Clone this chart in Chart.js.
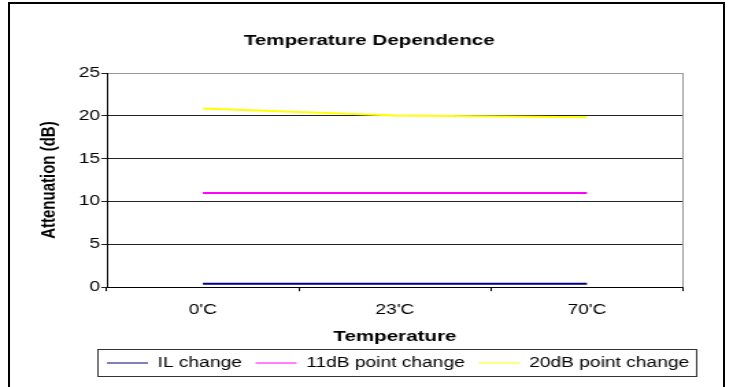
<!DOCTYPE html>
<html lang="en">

<head>
    <meta charset="UTF-8">
    <meta name="viewport" content="width=device-width, initial-scale=1.0">
    <title>Temperature Dependence</title>
    <style>
        body {
            margin: 0;
            background-color: #ffffff;
            overflow: hidden;
        }

        .frame {
            position: absolute;
            left: 8px;
            top: 2px;
            width: 713px;
            height: 420px;
            border: 2px solid #000000;
        }

        #chartContainer {
            position: absolute;
            left: 0;
            top: 0;
        }
    </style>
</head>

<body>
    <div class="frame"></div>
    <!-- the original is an Excel chart stretched sideways, so draw narrow and let css widen it -->
    <canvas id="chartContainer" width="535" height="387" style="width: 733px; height: 387px;"></canvas>

    <script src="https://cdn.jsdelivr.net/npm/chart.js@4/dist/chart.umd.min.js"></script>
    <script>
        const categories = ["0'C", "23'C", "70'C"];
        const ilChange = [0.4, 0.4, 0.4];
        const point11dB = [11, 11, 11];
        const point20dB = [20.85, 20.05, 19.85];
        const yMin = 0;
        const yMax = 25;
        const yStep = 5;

        Chart.defaults.font.family = "'Liberation Sans', Arial, sans-serif";
        Chart.defaults.font.size = 14;
        Chart.defaults.color = "#000000";

        // excel puts the title in the middle of the whole box and starts the legend under the plot
        const excelLook = {
            id: "excelLook",
            afterLayout(chart) {
                const t = chart.titleBlock;
                t.left = 0;
                t.right = chart.width + 4;

                const lg = chart.legend;
                const pad = lg.options.labels.padding;
                const start = (lg.left + pad + lg.right - lg.lineWidths[0]) / 2;
                const dx = chart.chartArea.left - start;
                lg.left += dx;
                lg.right += dx;
            },
            beforeDatasetsDraw(chart) {
                const { ctx, chartArea } = chart;
                ctx.save();
                ctx.strokeStyle = "#999999";
                ctx.lineWidth = 1;
                ctx.beginPath();
                ctx.moveTo(Math.round(chartArea.right) - 0.5, chartArea.top);
                ctx.lineTo(Math.round(chartArea.right) - 0.5, chartArea.bottom);
                ctx.stroke();
                ctx.restore();
            },
            afterDraw(chart) {
                const lg = chart.legend;
                const ctx = chart.ctx;
                const pad = lg.options.labels.padding;
                const x0 = (lg.left + pad + lg.right - lg.lineWidths[0]) / 2;
                const x1 = x0 + lg.lineWidths[0] - pad;
                const yc = lg.top + pad + 7;
                ctx.save();
                ctx.strokeStyle = "#333333";
                ctx.lineWidth = 1;
                ctx.strokeRect(Math.round(x0 - 7) + 0.5, Math.round(yc - 14) + 0.5, Math.round(x1 - x0 + 12), 27);
                ctx.restore();
            }
        };

        const ctx = document.getElementById("chartContainer");

        const mainChart = new Chart(ctx, {
            type: "line",
            data: {
                labels: categories,
                datasets: [
                    { label: "IL change", data: ilChange, borderColor: "#000080", backgroundColor: "#000080" },
                    { label: "11dB point change", data: point11dB, borderColor: "#ff00ff", backgroundColor: "#ff00ff" },
                    { label: "20dB point change", data: point20dB, borderColor: "#ffff00", backgroundColor: "#ffff00" }
                ]
            },
            options: {
                responsive: false,
                animation: false,
                events: [],
                elements: {
                    line: { borderWidth: 2, tension: 0 },
                    point: { radius: 0 }
                },
                layout: {
                    padding: { left: 0, right: 36.5, top: 0, bottom: 7 }
                },
                plugins: {
                    title: {
                        display: true,
                        text: "Temperature Dependence",
                        font: { size: 15, weight: "bold" },
                        padding: { top: 32, bottom: 23 }
                    },
                    legend: {
                        position: "bottom",
                        labels: {
                            usePointStyle: true,
                            pointStyle: "line",
                            pointStyleWidth: 30,
                            padding: 10,
                            font: { size: 14 }
                        }
                    },
                    tooltip: { enabled: false }
                },
                scales: {
                    x: {
                        offset: true,
                        grid: {
                            offset: true,
                            drawOnChartArea: false,
                            tickLength: 4,
                            color: "#000000"
                        },
                        border: { color: "#000000" },
                        ticks: { padding: 11 },
                        title: {
                            display: true,
                            text: "Temperature",
                            font: { size: 15, weight: "bold" },
                            padding: { top: -2, bottom: 0 }
                        }
                    },
                    y: {
                        min: yMin,
                        max: yMax,
                        afterFit(scale) {
                            scale.width = 78;
                        },
                        grid: {
                            color: (c) => (c.tick && c.tick.value === yMax ? "#999999" : "#222222"),
                            tickColor: "#222222",
                            tickLength: 4
                        },
                        border: { color: "#000000" },
                        ticks: { stepSize: yStep, padding: 1 },
                        title: {
                            display: true,
                            text: "Attenuation (dB)",
                            font: { size: 15, weight: "bold" },
                            padding: { top: 27, bottom: 0 }
                        }
                    }
                }
            },
            plugins: [excelLook]
        });
    </script>
</body>

</html>
